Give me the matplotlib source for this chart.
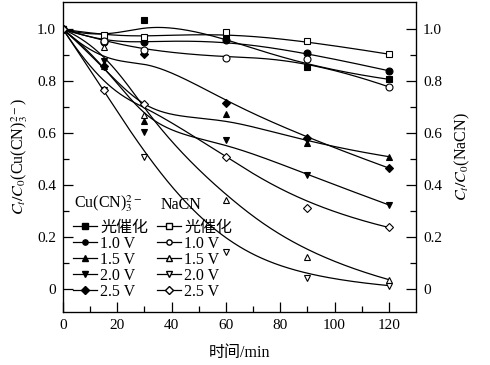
import numpy as np
import matplotlib
matplotlib.use("Agg")
import matplotlib.pyplot as plt
from matplotlib.lines import Line2D

plt.rcParams['font.family'] = ['Liberation Serif', 'Noto Sans CJK SC']
plt.rcParams['mathtext.fontset'] = 'stix'

time_min = [0, 15, 30, 60, 90, 120]
labels = ['光催化', '1.0 V', '1.5 V', '2.0 V', '2.5 V']
markers = ['s', 'o', '^', 'v', 'D']

# Cu(CN)3 2- (filled markers)
cu_photo = [1.0, 0.96, 1.035, 0.97, 0.853, 0.807]
cu_10v = [1.0, 0.95, 0.951, 0.96, 0.909, 0.84]
cu_15v = [1.0, 0.86, 0.647, 0.673, 0.56, 0.509]
cu_20v = [1.0, 0.878, 0.603, 0.573, 0.438, 0.323]
cu_25v = [1.0, 0.86, 0.904, 0.717, 0.58, 0.465]

# NaCN (open markers)
na_photo = [1.0, 0.977, 0.97, 0.988, 0.954, 0.904]
na_10v = [1.0, 0.955, 0.919, 0.89, 0.885, 0.778]
na_15v = [1.0, 0.932, 0.669, 0.342, 0.124, 0.035]
na_20v = [1.0, 0.765, 0.509, 0.143, 0.042, 0.012]
na_25v = [1.0, 0.765, 0.711, 0.507, 0.313, 0.236]

cu_series = [cu_photo, cu_10v, cu_15v, cu_20v, cu_25v]
na_series = [na_photo, na_10v, na_15v, na_20v, na_25v]


def bspline(xs, ys, k=3, num=300):
    # clamped B-spline with the data points as control points (Origin style)
    P = np.column_stack([xs, ys]).astype(float)
    n = len(P)
    k = min(k, n - 1)
    t = np.concatenate([np.zeros(k), np.arange(0, n - k + 1), np.full(k, n - k)]).astype(float)
    u = np.linspace(0, n - k, num)
    u[-1] -= 1e-9
    N = np.zeros((num, len(t) - 1))
    for i in range(len(t) - 1):
        N[:, i] = (t[i] <= u) & (u < t[i + 1])
    for p in range(1, k + 1):
        Nn = np.zeros((num, len(t) - 1 - p))
        for i in range(len(t) - 1 - p):
            a = 0.0
            d1 = t[i + p] - t[i]
            if d1 > 0:
                a = (u - t[i]) / d1 * N[:, i]
            b = 0.0
            d2 = t[i + p + 1] - t[i + 1]
            if d2 > 0:
                b = (t[i + p + 1] - u) / d2 * N[:, i + 1]
            Nn[:, i] = a + b
        N = Nn
    C = N @ P
    return C[:, 0], C[:, 1]


fig = plt.figure(figsize=(4.9, 3.65), dpi=100)
ax = fig.add_axes([0.1286, 0.145, 0.7204, 0.8495])

fs = 11.5
lw = 0.9
ms = 5
for ys, m in zip(cu_series, markers):
    sx, sy = bspline(time_min, ys)
    ax.plot(sx, sy, color='black', lw=lw)
    ax.plot(time_min, ys, ls='none', marker=m, ms=ms if m != 'D' else ms - 0.5,
            mfc='black', mec='black', mew=0.8)
for ys, m in zip(na_series, markers):
    sx, sy = bspline(time_min, ys)
    ax.plot(sx, sy, color='black', lw=lw)
    ax.plot(time_min, ys, ls='none', marker=m, ms=ms if m != 'D' else ms - 0.5,
            mfc='white', mec='black', mew=0.8)

ax.set_xlim(0, 130)
ax.set_ylim(-0.09, 1.105)
ax.set_xticks(np.arange(0, 121, 20))
ax.set_xticks(np.arange(10, 130, 20), minor=True)
ax.set_yticks(np.arange(0, 1.01, 0.2))
ax.set_yticks(np.arange(0.1, 1.1, 0.2), minor=True)
ax.set_yticklabels(['0', '0.2', '0.4', '0.6', '0.8', '1.0'])
ax.tick_params(which='both', direction='in', labelsize=fs - 0.5, width=0.9)
ax.tick_params(which='major', length=7, pad=5)
ax.tick_params(which='minor', length=4)
ax.set_xlabel('时间/min', fontsize=fs, labelpad=9)
ax.set_ylabel(r'$C_t/C_0$(Cu(CN)$_3^{2-}$)', fontsize=fs, labelpad=5)
for s in ax.spines.values():
    s.set_linewidth(0.9)

ax2 = ax.twinx()
ax2.set_ylim(ax.get_ylim())
ax2.set_yticks(np.arange(0, 1.01, 0.2))
ax2.set_yticks(np.arange(0.1, 1.1, 0.2), minor=True)
ax2.set_yticklabels(['0', '0.2', '0.4', '0.6', '0.8', '1.0'])
ax2.tick_params(which='both', direction='in', labelsize=fs - 0.5, width=0.9)
ax2.tick_params(which='major', length=7, pad=5)
ax2.tick_params(which='minor', length=4)
ax2.set_ylabel(r'$C_t/C_0$(NaCN)', fontsize=fs, labelpad=8)

cu_handles = [Line2D([], [], color='black', lw=lw, marker=m, ms=3.8, mfc='black', mec='black')
              for m in markers]
na_handles = [Line2D([], [], color='black', lw=lw, marker=m, ms=3.8, mfc='white', mec='black')
              for m in markers]

# group titles above the two legend columns
fig.text(74 / 490, 1 - 208 / 365, 'Cu(CN)$_3^{2-}$', fontsize=fs, va='baseline', ha='left')
fig.text(161 / 490, 1 - 209 / 365, 'NaCN', fontsize=fs, va='baseline', ha='left')

leg_kw = dict(frameon=False, fontsize=fs, handlelength=1.5,
              handletextpad=0.2, labelspacing=0.0, borderpad=0.0, borderaxespad=0.0)
leg1 = ax.legend(cu_handles, labels, loc='upper left',
                 bbox_to_anchor=(73 / 490, 1 - 220 / 365), bbox_transform=fig.transFigure, **leg_kw)
ax.add_artist(leg1)
leg2 = ax.legend(na_handles, labels, loc='upper left',
                 bbox_to_anchor=(157 / 490, 1 - 220 / 365), bbox_transform=fig.transFigure, **leg_kw)

fig.savefig('out.png', dpi=100)
